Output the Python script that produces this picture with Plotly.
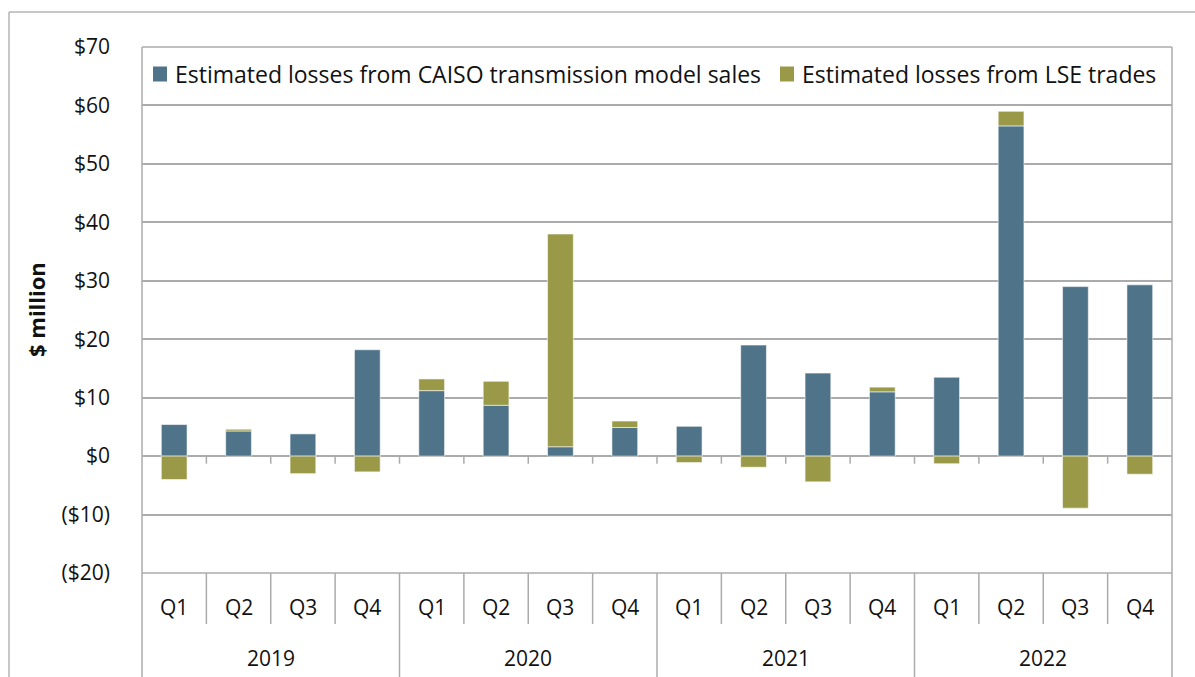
import plotly.graph_objects as go

# Quarterly estimated losses, $ million
years = ["2019", "2020", "2021", "2022"]
quarters = ["Q1", "Q2", "Q3", "Q4"]
caiso_model_sales = [5.4, 4.3, 3.8, 18.2,
                     11.2, 8.7, 1.6, 4.9,
                     5.1, 19.0, 14.2, 11.0,
                     13.5, 56.5, 29.0, 29.3]
lse_trades = [-4.0, 0.3, -3.0, -2.7,
              2.0, 4.1, 36.4, 1.1,
              -1.1, -1.9, -4.4, 0.8,
              -1.3, 2.5, -8.9, -3.1]
series_names = ["Estimated losses from CAISO transmission model sales",
                "Estimated losses from LSE trades"]
y_ticks = [70, 60, 50, 40, 30, 20, 10, 0, -10, -20]
y_tick_text = ["$70", "$60", "$50", "$40", "$30", "$20", "$10", "$0", "($10)", "($20)"]

BLUE = "#4F7489"
OLIVE = "#9A9948"
GRID = "#ABABAB"
FONT = "Open Sans"
FS = 21
TXT = "#111111"

n = len(caiso_model_sales)
xpos = list(range(n))

fig = go.Figure()
for vals, name, color in [(caiso_model_sales, series_names[0], BLUE),
                          (lse_trades, series_names[1], OLIVE)]:
    fig.add_trace(go.Bar(
        x=xpos, y=vals, name=name, showlegend=False,
        marker=dict(color=color, line=dict(color="rgba(255,255,255,0.55)", width=1)),
        width=0.4,
    ))

W, H = 1195, 677
ml, mr, mt, mb = 142, 23, 47, 104
pw, ph = W - ml - mr, H - mt - mb


def px_x(px):
    return (px - ml) / pw


def px_y(py):
    return (H - mb - py) / ph


shapes = []
line_style = dict(color=GRID, width=1.5)

# plot frame: left/right edges run down through the label area
shapes.append(dict(type="line", xref="paper", yref="paper", x0=0, x1=1, y0=1, y1=1, line=line_style))
shapes.append(dict(type="line", xref="paper", yref="paper", x0=0, x1=1, y0=0, y1=0, line=line_style))
shapes.append(dict(type="line", xref="paper", yref="paper", x0=0, x1=0, y0=px_y(H), y1=1, line=line_style))
shapes.append(dict(type="line", xref="paper", yref="paper", x0=1, x1=1, y0=px_y(H), y1=1, line=line_style))

# category boundaries: short dividers between quarters, full ones between years
for i in range(1, n):
    xb = i - 0.5
    y_end = px_y(H) if i % 4 == 0 else px_y(624)
    shapes.append(dict(type="line", xref="x", yref="paper", x0=xb, x1=xb, y0=0, y1=y_end, line=line_style))
    # small tick marks hanging below the zero line
    shapes.append(dict(type="line", xref="x", yref="y", x0=xb, x1=xb, y0=0, y1=-1.3, line=line_style))

# outer chart border
shapes.append(dict(type="line", xref="paper", yref="paper", x0=px_x(9), x1=px_x(W + 5),
                   y0=px_y(12), y1=px_y(12), line=dict(color="#B5B5B5", width=1.5)))
shapes.append(dict(type="line", xref="paper", yref="paper", x0=px_x(9), x1=px_x(9),
                   y0=px_y(12), y1=px_y(H + 5), line=dict(color="#B5B5B5", width=1.5)))

annotations = []

# legend: colour swatch followed by the series name
legend_swatch_left = [153, 780]
legend_text_left = [175, 802]
legend_cy = 74
for name, color, sx, tx in zip(series_names, [BLUE, OLIVE], legend_swatch_left, legend_text_left):
    shapes.append(dict(type="rect", xref="paper", yref="paper",
                       x0=px_x(sx), x1=px_x(sx + 14), y0=px_y(legend_cy - 7.5), y1=px_y(legend_cy + 7.5),
                       fillcolor=color, line=dict(width=0)))
    annotations.append(dict(x=px_x(tx), y=px_y(legend_cy), xref="paper", yref="paper", text=name,
                            showarrow=False, font=dict(family=FONT, size=23, color=TXT),
                            xanchor="left", yanchor="middle", xshift=-2))

for i in range(n):
    annotations.append(dict(x=i, y=px_y(607), xref="x", yref="paper", text=quarters[i % 4],
                            showarrow=False, font=dict(family=FONT, size=FS, color=TXT),
                            xanchor="center", yanchor="middle"))
for k, yr in enumerate(years):
    annotations.append(dict(x=4 * k + 1.5, y=px_y(658), xref="x", yref="paper", text=yr,
                            showarrow=False, font=dict(family=FONT, size=FS, color=TXT),
                            xanchor="center", yanchor="middle"))
annotations.append(dict(x=px_x(36), y=px_y(310), xref="paper", yref="paper", text="<b>$ million</b>",
                        showarrow=False, textangle=-90, font=dict(family=FONT, size=22, color=TXT),
                        xanchor="center", yanchor="middle"))

fig.update_layout(
    width=W, height=H,
    margin=dict(l=ml, r=mr, t=mt, b=mb, pad=0),
    paper_bgcolor="white", plot_bgcolor="white",
    barmode="relative",
    font=dict(family=FONT, size=FS, color=TXT),
    showlegend=False,
    xaxis=dict(range=[-0.5, n - 0.5], showticklabels=False, showgrid=False, zeroline=False,
               showline=False, ticks="", fixedrange=True),
    yaxis=dict(range=[-20, 70], tickvals=y_ticks, ticktext=y_tick_text, showgrid=True,
               gridcolor=GRID, gridwidth=1.5, zeroline=True, zerolinecolor=GRID, zerolinewidth=1.5,
               showline=False, ticks="", ticklabelstandoff=31, fixedrange=True,
               tickfont=dict(family=FONT, size=FS, color=TXT)),
    shapes=shapes,
    annotations=annotations,
)

fig.write_html("out.html")
